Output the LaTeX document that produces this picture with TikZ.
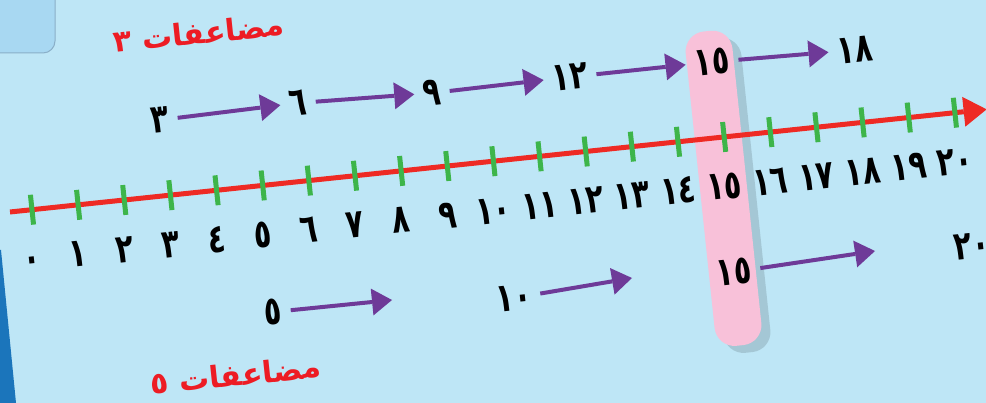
\documentclass[tikz,border=0pt]{standalone}
\usepackage{fontspec}
\newfontfamily\arabicfont[Script=Arabic]{DejaVu Sans}
\newfontfamily\digitfont[Script=Arabic, FakeStretch=0.72]{DejaVu Sans}
\TeXXeTstate=1
\usetikzlibrary{arrows.meta,shadows}

\definecolor{sky}{HTML}{BEE6F6}
\definecolor{boxblue}{HTML}{A8D8F2}
\definecolor{boxedge}{HTML}{8AAFC8}
\definecolor{edgeblue}{HTML}{1B75BB}
\definecolor{linered}{HTML}{EE2A24}
\definecolor{tickgreen}{HTML}{3DB54A}
\definecolor{arrowpurple}{HTML}{6E3A98}
\definecolor{markpink}{HTML}{F8C1D9}
\definecolor{titlered}{HTML}{ED1C24}

\begin{document}
\begin{tikzpicture}[
    x = 1pt, y = -1pt,
    jump/.style = {-{Triangle[length=20pt, width=27pt, line width=0pt]}, line width=4pt, color=arrowpurple},
    num/.style = {font=\digitfont\bfseries\fontsize{40}{42}\selectfont, rotate=6, inner sep=0pt, outer sep=9pt},
    title/.style = {font=\arabicfont\bfseries\fontsize{30}{32}\selectfont, text=titlered, rotate=6},
    notch/.style = {draw=tickgreen, line width=5pt},
    axis/.style = {color=linered, line width=5pt, -{Triangle[length=23pt, width=30pt, line width=0pt]}}
]
    \clip (0,0) rectangle (986,403);
    \fill[sky] (0,0) rectangle (986,403);
    % corner box and side strip
    \draw[fill=boxblue, draw=boxedge, line width=1pt, rounded corners=12pt] (-20,-20) rectangle (55,53);
    \fill[edgeblue] (-5,250) -- (1,250) -- (16,403) -- (-5,403) -- cycle;

    % number line
    \begin{scope}[shift={(10,212)}, rotate=6]
        \fill[markpink, rounded corners=20pt,
              drop shadow={fill=black!60!sky, opacity=0.22, shadow xshift=9pt, shadow yshift=-7pt}]
            (688.6,-107) rectangle (735.6,209);
        \draw[axis] (0,0) -- (982,0);
        \foreach \i/\lab in {0/٠,1/١,2/٢,3/٣,4/٤,5/٥,6/٦,7/٧,8/٨,9/٩,10/١٠,
                             11/١١,12/١٢,13/١٣,14/١٤,15/١٥,16/١٦,17/١٧,18/١٨,19/١٩,20/٢٠} {
            \draw[notch] (22.1+46.4*\i,-15) -- (22.1+46.4*\i,15);
            \node[num, anchor=base] (n\i) at (17.1+46.4*\i,62) {\lab};
        }
    \end{scope}

    % multiples of 3
    \node[title] (mthree) at (199,33) {\beginR مضاعفات ٣\endR};
    \node[num] (t3) at (160,120) {٣};
    \node[num] (t6) at (298,103) {٦};
    \node[num] (t9) at (432,93) {٩};
    \node[num] (t12) at (570,77) {١٢};
    \node[num] (t15) at (712,62) {١٥};
    \node[num] (t18) at (855,50) {١٨};
    \path[jump]
        (t3) edge (t6)
        (t6) edge (t9)
        (t9) edge (t12)
        (t12) edge (t15)
        (t15) edge (t18);

    % multiples of 5
    \node[title] (mfive) at (236,375) {\beginR مضاعفات ٥\endR};
    \node[num] (f5) at (273,312) {٥};
    \node[num] (f10) at (514,298) {١٠};
    \node[num] (f15) at (734,272) {١٥};
    \node[num] (f20) at (972,246) {٢٠};
    \coordinate (e5) at (392,300);
    \coordinate (e10) at (632,278);
    \coordinate (e15) at (875,251);
    \path[jump]
        (f5) edge (e5)
        (f10) edge (e10)
        (f15) edge (e15);
\end{tikzpicture}
\end{document}
